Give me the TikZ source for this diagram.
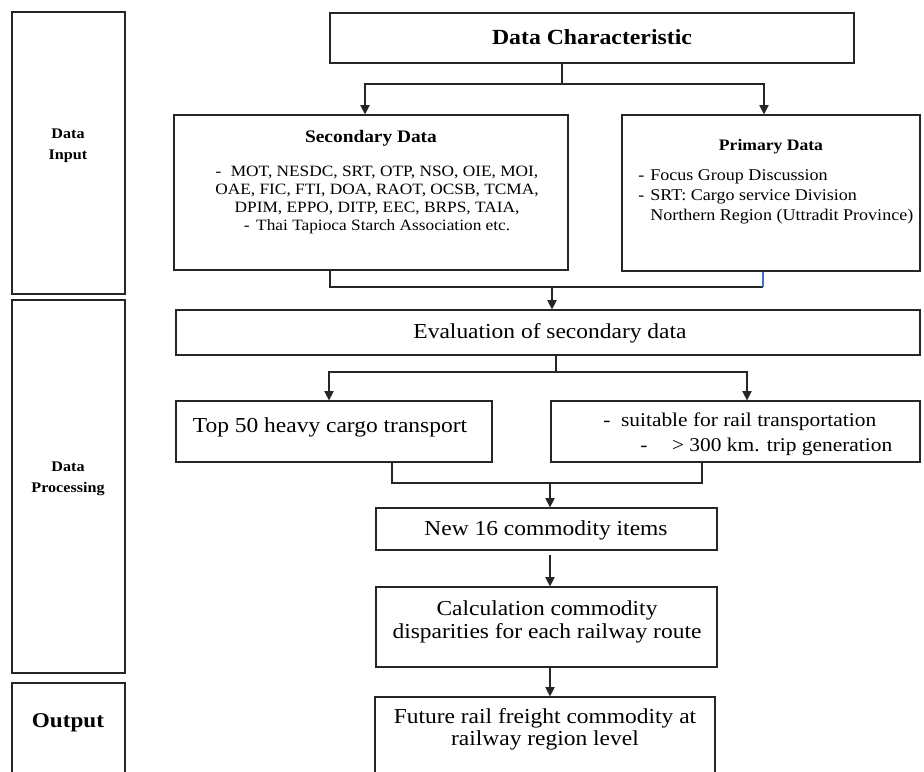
\documentclass[tikz,border=0pt]{standalone}
\usepackage{fontspec}
\setmainfont{Liberation Serif}[FakeStretch=1.1]
\usetikzlibrary{arrows.meta,fit}
\definecolor{linkblue}{HTML}{4472C4}
\begin{document}
\begin{tikzpicture}[x=0.75pt,y=-0.75pt,
  box/.style={draw=black!85,line width=0.9pt,inner sep=0pt,fit={#1}},
  conn/.style={draw=black!85,line width=0.9pt},
  arr/.style={conn,-{Triangle[length=7pt,width=7pt]}},
  body/.style={inner sep=0pt,align=center,font=\fontsize{16}{17}\selectfont},
  small/.style={inner sep=0pt,font=\fontsize{14.6}{17}\selectfont},
  side/.style={inner sep=0pt,align=center,font=\fontsize{11}{16}\selectfont\bfseries},
]
\useasboundingbox (0,0) rectangle (924,771);
\clip (0,0) rectangle (924,771);

% stage column
\node[box={(12,12) (125,294)}] (inbox) {};
\node[side] (inlab) at (68,146) {Data\\Input};
\node[box={(12,300) (125,673)}] (procbox) {};
\node[side] (proclab) at (68,479) {Data\\Processing};
\node[box={(12,683) (125,790)}] (outbox) {};
\node[inner sep=0pt,font=\fontsize{15.8}{18}\selectfont\bfseries] (outlab) at (68,723) {Output};

% data input
\node[box={(330,13) (854,63)}] (dc) {};
\node[inner sep=0pt,font=\fontsize{16.2}{18}\selectfont\bfseries] (dctext) at (592,37) {Data Characteristic};

\node[box={(174,115) (568,270)}] (sec) {};
\node[inner sep=0pt,font=\fontsize{13.2}{15}\selectfont\bfseries] (sechead) at (371,138) {Secondary Data};
\node[inner sep=0pt,align=center,font=\fontsize{11.8}{13.7}\selectfont] (seclist) at (377,200)
  {-\hspace{7pt}MOT, NESDC, SRT, OTP, NSO, OIE, MOI,\\
   OAE, FIC, FTI, DOA, RAOT, OCSB, TCMA,\\
   DPIM, EPPO, DITP, EEC, BRPS, TAIA,\\
   -\hspace{5pt}Thai Tapioca Starch Association etc.};

\node[box={(622,115) (920,271)}] (pri) {};
\node[inner sep=0pt,font=\fontsize{12}{14}\selectfont\bfseries] (prihead) at (771,147) {Primary Data};
\node[inner sep=0pt,align=left,anchor=west,font=\fontsize{12.3}{15}\selectfont] (prilist) at (638,197)
  {-\hspace{4.5pt}Focus Group Discussion\\
   -\hspace{4.5pt}SRT: Cargo service Division\\
   \phantom{-}\hspace{4.5pt}Northern Region (Uttradit Province)};

% data processing
\node[box={(176,310) (920,355)}] (ev) {};
\node[body] (evtext) at (550,333) {Evaluation of secondary data};

\node[box={(176,401) (492,462)}] (top) {};
\node[body] (toptext) at (330,427) {Top 50 heavy cargo transport};

\node[box={(551,401) (920,462)}] (rb) {};
\node[small,anchor=west] (rb1) at (603,422) {-\hspace{8pt}suitable for rail transportation};
\node[small,anchor=west] (rb2) at (640,447) {-\hspace{18.5pt}> 300 km. trip generation};

\node[box={(376,508) (717,550)}] (new) {};
\node[body] (newtext) at (546,530) {New 16 commodity items};

\node[box={(376,587) (717,667)}] (calcbox) {};
\node[body] (calctext) at (547,622) {Calculation commodity\\disparities for each railway route};

% output
\node[box={(375,697) (715,800)}] (fut) {};
\node[body,font=\fontsize{16}{16.5}\selectfont] (futtext) at (545,729) {Future rail freight commodity at\\railway region level};

% connectors
\coordinate (j0) at (562,84);
\coordinate (jl) at (365,84);
\coordinate (jr) at (764,84);
\draw[conn] (dc.south -| j0) -- (j0);
\draw[arr] (j0) -- (jl) -- (sec.north -| jl);
\draw[arr] (j0) -- (jr) -- (pri.north -| jr);

\coordinate (m0) at (552,287);
\coordinate (ml) at (330,287);
\coordinate (mr) at (763,287);
\draw[conn] (sec.south -| ml) -- (ml) -- (mr);
\draw[draw=linkblue,line width=0.9pt] (pri.south -| mr) -- (mr);
\draw[arr] (m0) -- (ev.north -| m0);

\coordinate (b0) at (556,372);
\coordinate (bl) at (329,372);
\coordinate (br) at (747,372);
\draw[conn] (ev.south -| b0) -- (b0);
\draw[arr] (b0) -- (bl) -- (top.north -| bl);
\draw[arr] (b0) -- (br) -- (rb.north -| br);

\coordinate (c0) at (550,483);
\coordinate (cl) at (392,483);
\coordinate (cr) at (702,483);
\draw[conn] (top.south -| cl) -- (cl) -- (cr) -- (rb.south -| cr);
\draw[arr] (c0) -- (new.north -| c0);
\draw[arr,shorten <=3.5pt] (new.south -| c0) -- (calcbox.north -| c0);
\draw[arr] (calcbox.south -| c0) -- (fut.north -| c0);
\end{tikzpicture}
\end{document}
